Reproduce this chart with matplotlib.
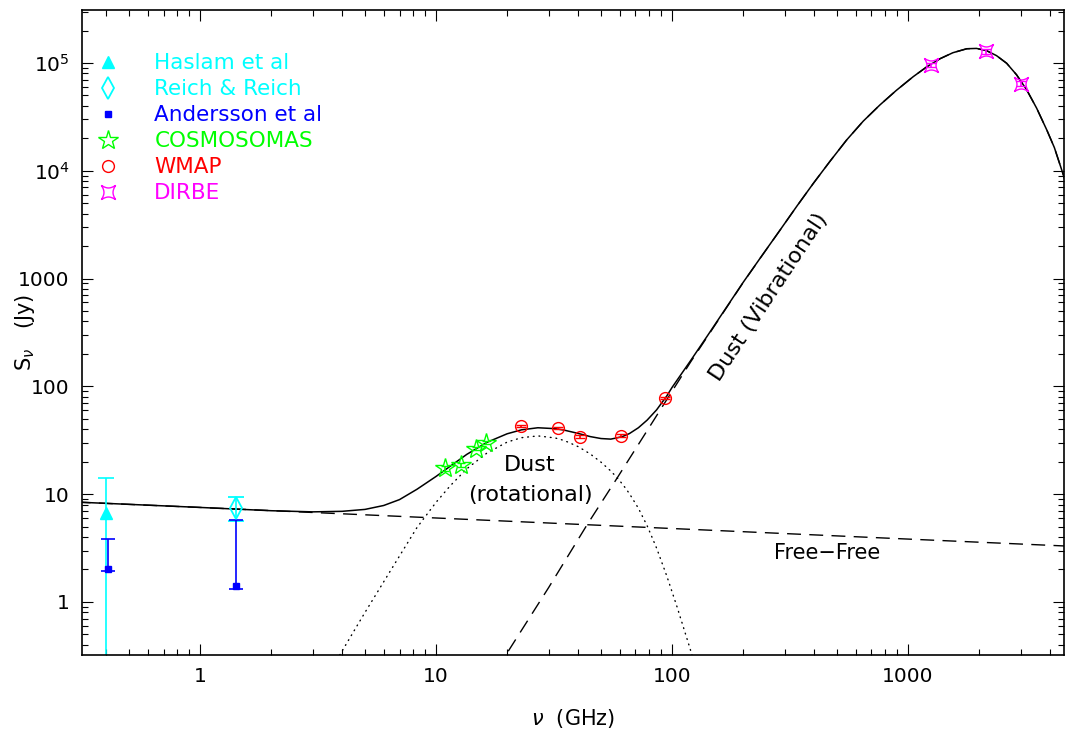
import numpy as np
import matplotlib.pyplot as plt
from matplotlib.path import Path
from matplotlib.lines import Line2D

# ---- measured points (GHz, Jy) ----
haslam_nu = [0.400]
haslam_S = [6.7]
haslam_lo = [6.69]
haslam_hi = [7.4]

reich_nu = [1.42]
reich_S = [7.5]
reich_err = [1.9]

andersson_nu = [0.408, 1.42]
andersson_S = [2.0, 1.40]
andersson_lo = [0.07, 0.08]
andersson_hi = [1.84, 4.36]

cosmo_nu = [10.9, 12.7, 14.7, 16.3]
cosmo_S = [17.3, 18.5, 26.5, 30.0]
cosmo_err = [0.8, 0.8, 1.0, 1.0]

wmap_nu = [22.8, 33.0, 40.7, 60.8, 93.5]
wmap_S = [42.9, 41.0, 34.2, 35.0, 78.5]
wmap_err = [1.2, 1.2, 1.0, 1.0, 2.0]

dirbe_nu = [1249, 2141, 2997]
dirbe_S = [9.6e4, 1.29e5, 6.4e4]
dirbe_err = [5.0e3, 7.0e3, 3.5e3]

# ---- model curves ----
ff_nu = [0.3, 1, 10, 100, 1000, 5000]
ff_S = [8.44, 7.53, 6.01, 4.80, 3.83, 3.28]

spin_nu = [3.5, 3.9, 5.0, 6.5, 8.3, 10, 11.5, 13.5, 16.4, 20, 23, 27, 32, 35, 40,
           45, 50, 55, 58.5, 62, 66, 72, 78.4, 86, 95, 105, 119, 125]
spin_S = [0.21, 0.32, 0.80, 2.05, 4.9, 8.4, 12.0, 17.2, 24.0, 30.4, 33.4, 34.7, 33.2,
          31.4, 27.6, 23.6, 19.8, 16.4, 14.2, 12.2, 10.1, 7.4, 5.1, 3.16, 1.74, 0.90,
          0.374, 0.26]

vib_nu = [18, 20, 30, 43.6, 58.5, 86.4, 100, 120, 141.3, 167.9, 200, 239.9, 287.1,
          338.8, 397.2, 467.7, 549.5, 645.7, 760.3, 891.3, 1052, 1202, 1368, 1549,
          1774, 1950, 2153, 2371, 2618, 2884, 3184, 3508, 3873, 4169, 4477, 4699]
vib_S = [0.234, 0.336, 1.36, 5.18, 14.1, 54.3, 90, 169, 290, 514, 916, 1618, 2821,
         4728, 7652, 12300, 19320, 28840, 40830, 55590, 74650, 92260, 109650, 124450,
         135520, 136460, 130020, 116950, 99310, 77620, 56230, 38020, 23880, 16410,
         10210, 7413]

total_nu = [0.3, 1, 2, 3, 4, 5, 6, 7, 8.3, 10, 11.5, 13.5, 16.4, 20, 23, 27, 32, 35,
            40, 45, 50, 55, 58.5, 62, 66, 72, 78.4, 86, 95, 100, 120, 141.3, 167.9,
            200, 239.9, 287.1, 338.8, 397.2, 467.7, 549.5, 645.7, 760.3, 891.3, 1052,
            1202, 1368, 1549, 1774, 1950, 2153, 2371, 2618, 2884, 3184, 3508, 3873,
            4169, 4477, 4699]
total_S = [8.44, 7.53, 7.02, 6.85, 6.93, 7.22, 7.85, 8.9, 11.1, 14.6, 18.2, 23.4,
           30.2, 36.3, 39.5, 41.3, 40.5, 39.2, 36.6, 34.2, 32.8, 32.4, 33.3, 34.4, 36.5,
           41.3, 48.6, 60.5, 81.5, 97.7, 174, 295, 519, 920, 1622, 2825, 4732, 7656,
           12300, 19320, 28840, 40830, 55590, 74650, 92260, 109650, 124450, 135520,
           136460, 130020, 116950, 99310, 77620, 56230, 38020, 23880, 16410, 10210, 7413]


def concave_square(depth=0.35, n=12):
    # PGPLOT-like square with bowed-in sides
    corners = [(1, 1), (-1, 1), (-1, -1), (1, -1)]
    verts = []
    for i in range(4):
        a = np.array(corners[i], float)
        b = np.array(corners[(i + 1) % 4], float)
        inward = -(a + b) / 2
        for t in np.linspace(0, 1, n, endpoint=False):
            verts.append(a + t * (b - a) + inward * depth * np.sin(np.pi * t))
    verts.append(verts[0])
    return Path(verts, closed=True)


CYAN, BLUE, GREEN, RED, MAG = '#00ffff', '#0000ff', '#00ff00', '#ff0000', '#ff00ff'
plt.rcParams['font.family'] = ['DejaVu Sans']
plt.rcParams['mathtext.fontset'] = 'dejavusans'

fig = plt.figure(figsize=(10.66, 7.37), dpi=100)
ax = fig.add_axes([82 / 1066, 82 / 737, 982 / 1066, 645 / 737])
ax.set_xscale('log')
ax.set_yscale('log')

ax.plot(ff_nu, ff_S, color='black', lw=1.0, dashes=(10, 6))
ax.plot(vib_nu, vib_S, color='black', lw=1.0, dashes=(10, 6))
ax.plot(spin_nu, spin_S, color='black', lw=1.0, dashes=(0.6, 3.5), dash_capstyle='round')
ax.plot(total_nu, total_S, color='black', lw=1.1)

ekw = dict(elinewidth=1.2, capthick=1.2, linestyle='none')
ax.errorbar(haslam_nu, haslam_S, yerr=[haslam_lo, haslam_hi], color=CYAN, marker='^',
            ms=9, capsize=6, **ekw)
ax.errorbar(reich_nu, reich_S, yerr=reich_err, color=CYAN, marker='d', ms=11,
            mfc='none', mew=1.3, capsize=6, **ekw)
ax.errorbar(andersson_nu, andersson_S, yerr=[andersson_lo, andersson_hi], color=BLUE,
            marker='s', ms=4.5, capsize=5, **ekw)
ax.errorbar(cosmo_nu, cosmo_S, yerr=cosmo_err, color=GREEN, marker='*', ms=15,
            mfc='none', mew=1.0, capsize=3, **ekw)
ax.errorbar(wmap_nu, wmap_S, yerr=wmap_err, color=RED, marker='o', ms=8.5,
            mfc='none', mew=1.0, capsize=3.5, **ekw)
sq = concave_square()
ax.errorbar(dirbe_nu, dirbe_S, yerr=dirbe_err, color=MAG, marker=sq, ms=10,
            mfc='none', mew=1.0, capsize=3.5, **ekw)

ax.set_xlim(0.316, 4580)
ax.set_ylim(0.322, 3.1e5)

ax.set_xticks([1, 10, 100, 1000])
ax.set_xticklabels(['1', '10', '100', '1000'])
ax.set_yticks([1, 10, 100, 1000, 1e4, 1e5])
ax.set_yticklabels(['1', '10', '100', '1000', r'$10^4$', r'$10^5$'])
ax.tick_params(which='both', direction='in', top=True, right=True, width=0.8,
               labelsize=14.5, colors='black')
ax.tick_params(which='major', length=8, pad=9)
ax.tick_params(which='minor', length=4)
for s in ax.spines.values():
    s.set_linewidth(1.2)

ax.set_xlabel(r'$\nu$  (GHz)', fontsize=15, va='center')
ax.xaxis.set_label_coords(0.5, -0.098)
ax.set_ylabel(r'S$_\nu$   (Jy)', fontsize=15, va='center')
ax.yaxis.set_label_coords(-0.058, 0.5)

ax.text(25, 18.7, 'Dust', fontsize=16, ha='center', va='center')
ax.text(25, 9.8, '(rotational)', fontsize=16, ha='center', va='center')
ax.text(258, 675, 'Dust (Vibrational)', fontsize=16, ha='center', va='center',
        rotation=56.5, rotation_mode='anchor')
ax.text(454, 2.85, 'Free\u2212Free', fontsize=15, ha='center', va='center')

handles = [
    Line2D([], [], color=CYAN, marker='^', ms=9, ls='none'),
    Line2D([], [], color=CYAN, marker='d', ms=11, mfc='none', mew=1.3, ls='none'),
    Line2D([], [], color=BLUE, marker='s', ms=4.5, ls='none'),
    Line2D([], [], color=GREEN, marker='*', ms=15, mfc='none', mew=1.0, ls='none'),
    Line2D([], [], color=RED, marker='o', ms=8.5, mfc='none', mew=1.0, ls='none'),
    Line2D([], [], color=MAG, marker=sq, ms=10, mfc='none', mew=1.0, ls='none'),
]
labels = ['Haslam et al', 'Reich & Reich', 'Andersson et al', 'COSMOSOMAS', 'WMAP', 'DIRBE']
ax.legend(handles, labels, loc='upper left', bbox_to_anchor=(0.0155, 0.933), frameon=False,
          fontsize=15.5, labelcolor=[CYAN, CYAN, BLUE, GREEN, RED, MAG], handlelength=1.0,
          handletextpad=1.65, labelspacing=0.28, borderpad=0, borderaxespad=0)

fig.savefig('out.png', dpi=100)
